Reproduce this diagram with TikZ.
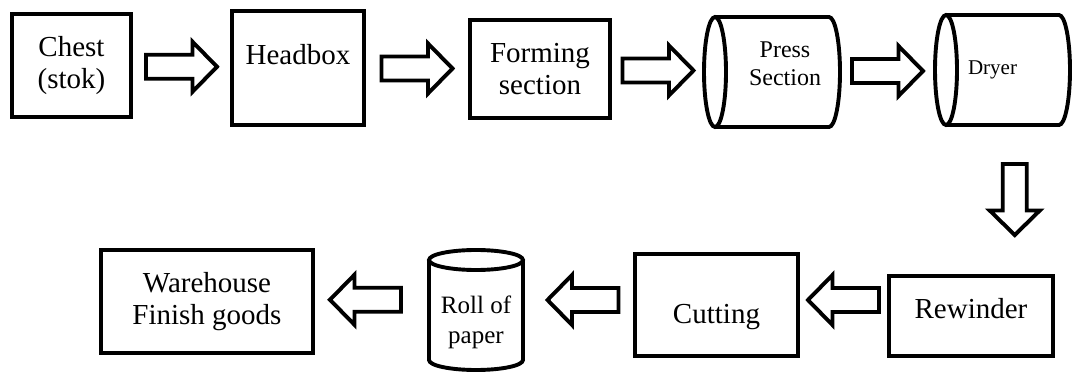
\documentclass[tikz,border=0pt]{standalone}
\usepackage{fontspec}
\setmainfont{Liberation Serif}
\usetikzlibrary{calc}

\newcommand{\flowarrow}[2]{%
\draw[flow,shift={#1},rotate=#2] (-35.5,-12) -- (11,-12) -- (11,-25) -- (35.5,0) -- (11,25) -- (11,12) -- (-35.5,12) -- cycle;}
% drum lying on its side, full end on the left
\newcommand{\sidedrum}[1]{%
\draw ([xshift=11pt]#1.north west) -- ([xshift=-11pt]#1.north east) arc[start angle=90,end angle=-90,x radius=11pt,y radius=55pt] -- ([xshift=11pt]#1.south west);
\draw ([xshift=11pt]#1.west) ellipse [x radius=11pt,y radius=55pt];}
% standing drum, full end on top
\newcommand{\updrum}[1]{%
\draw ([yshift=-10pt]#1.north west) -- ([yshift=10pt]#1.south west) arc[start angle=180,end angle=360,x radius=47pt,y radius=10pt] -- ([yshift=-10pt]#1.north east);
\draw ([yshift=-10pt]#1.north) ellipse [x radius=47pt,y radius=10pt];}

\begin{document}
\begin{tikzpicture}
[x=1pt,y=-1pt,line width=3.9pt,
box/.style={draw,rectangle,align=center,font=\fontsize{29}{32}\selectfont},
drum/.style={rectangle,outer sep=0pt,inner sep=0pt,align=center},
flow/.style={draw,line join=miter}]
\useasboundingbox (0,0) rectangle (1074,374);

\node (chest) at (71.5,65.5)[box,minimum width=119pt,minimum height=103pt] {Chest\\(stok)};
\node (head) at (298,68)[box,minimum width=132pt,minimum height=114pt,text depth=28pt] {Headbox};
\node (form) at (540,69)[box,minimum width=140pt,minimum height=98pt] {Forming\\section};
\node (press) at (772,72)[drum,minimum width=136pt,minimum height=110pt,text depth=16pt,font=\fontsize{24}{28}\selectfont] {\hspace*{26pt}Press\\\hspace*{26pt}Section};
\node (dryer) at (1002.5,70)[drum,minimum width=135pt,minimum height=110pt,font=\fontsize{21}{25}\selectfont] {Dryer\hspace*{20pt}};
\node (rewind) at (971,316)[box,minimum width=164pt,minimum height=80pt,text depth=16pt] {Rewinder};
\node (cut) at (716.5,305)[box,minimum width=163pt,minimum height=102pt,text height=44pt] {Cutting};
\node (roll) at (476,310)[drum,minimum width=94pt,minimum height=120pt,text height=73pt,font=\fontsize{25}{30}\selectfont] {Roll of\\paper};
\node (ware) at (207,301.5)[box,minimum width=212pt,minimum height=103pt] {Warehouse\\Finish goods};

\sidedrum{press}
\sidedrum{dryer}
\updrum{roll}

\flowarrow{($(chest.east)!.5!(head.west)$)}{0}
\flowarrow{($(head.east)!.5!(form.west)$)}{0}
\flowarrow{($(form.east)!.5!(press.west)$)}{0}
\flowarrow{($(press.east)!.5!(dryer.west)$)}{0}
\flowarrow{($(dryer.south)!.5!(rewind.north)+(28,0)$)}{-90}
\flowarrow{($(rewind.west)!.5!(cut.east)+(0,-10.5)$)}{180}
\flowarrow{($(cut.west)!.5!(roll.east)+(5,-7.5)$)}{180}
\flowarrow{($(roll.west)!.5!(ware.east)+(-6.5,-6)$)}{180}

\end{tikzpicture}
\end{document}
